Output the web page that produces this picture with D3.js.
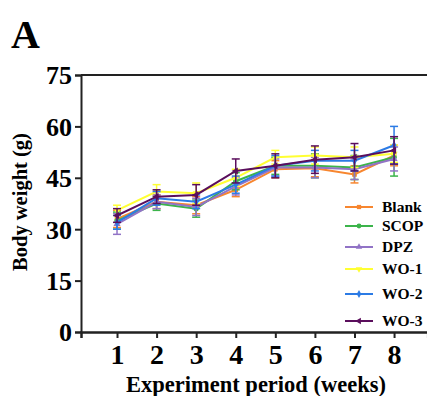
<!DOCTYPE html>
<html><head><meta charset="utf-8">
<script src="https://cdn.jsdelivr.net/npm/d3@7/dist/d3.min.js"></script>
<style>html,body{margin:0;padding:0;background:#fff;}</style>
</head><body>
<svg id="c" width="427" height="396"></svg>
<script>
const weeks = [1, 2, 3, 4, 5, 6, 7, 8];
const groups = ["Blank", "SCOP", "DPZ", "WO-1", "WO-2", "WO-3"];
const blank = [33.0, 38.0, 37.0, 41.5, 47.5, 47.8, 46.0, 51.5];
const scop  = [32.5, 37.5, 36.0, 44.0, 48.5, 48.5, 48.0, 51.0];
const dpz   = [31.5, 38.0, 36.5, 42.5, 48.0, 48.0, 47.5, 50.5];
const wo1   = [35.5, 41.0, 40.5, 45.0, 51.0, 51.5, 51.0, 52.0];
const wo2   = [32.0, 39.0, 38.0, 43.0, 48.5, 50.0, 50.0, 54.5];
const wo3   = [34.0, 39.5, 40.0, 47.0, 48.5, 50.3, 51.0, 53.0];
const blankSD = [2.5, 2.0, 2.5, 2.0, 2.5, 2.5, 2.5, 3.0];
const scopSD  = [2.5, 2.0, 2.5, 2.5, 2.5, 3.5, 3.5, 5.5];
const dpzSD   = [3.0, 2.0, 2.5, 2.5, 2.5, 3.0, 3.0, 3.5];
const wo1SD   = [1.5, 2.0, 3.0, 2.5, 2.0, 2.5, 3.0, 2.5];
const wo2SD   = [2.0, 2.0, 2.0, 2.5, 3.0, 3.0, 3.0, 5.5];
const wo3SD   = [2.0, 2.0, 3.0, 3.5, 3.5, 4.0, 4.0, 4.0];
const yTicks = [0, 15, 30, 45, 60, 75];

const colors = ["#F7862F", "#3CB44B", "#9173C6", "#FFFF33", "#2C7BE5", "#5A0E5C"];
const symbols = [d3.symbolSquare, d3.symbolCircle, d3.symbolTriangle, d3.symbolTriangle, d3.symbolDiamond, d3.symbolTriangle];
const rotations = [0, 0, 0, 180, 0, -90];
const means = [blank, scop, dpz, wo1, wo2, wo3];
const sds = [blankSD, scopSD, dpzSD, wo1SD, wo2SD, wo3SD];
const legendY = [207, 226, 247, 269, 294, 321];

const font = "'Liberation Serif','Times New Roman',serif";
const svg = d3.select("#c");
const x = d3.scaleLinear().domain([0.09, 8.85]).range([81, 427.7]);
const y = d3.scaleLinear().domain([0, 75]).range([332, 75]);

// panel letter
svg.append("text").attr("x", 11).attr("y", 48).attr("font-family", font)
  .attr("font-weight", "bold").attr("font-size", 40).text("A");

// top frame line
svg.append("line").attr("x1", x.range()[0]).attr("x2", 427).attr("y1", y(75)).attr("y2", y(75))
  .attr("stroke", "#222").attr("stroke-width", 2);

// y axis
const ya = svg.append("g").attr("transform", `translate(${x.range()[0]},0)`)
  .call(d3.axisLeft(y).tickValues(yTicks).tickSize(6).tickPadding(3).tickFormat(d3.format("d")));
ya.select(".domain").attr("stroke", "#222").attr("stroke-width", 2);
ya.selectAll(".tick line").attr("stroke", "#222").attr("stroke-width", 2);
ya.selectAll("text").attr("font-family", font).attr("font-weight", "bold").attr("font-size", 26).attr("fill", "#000").attr("dy", "0.34em");

// x axis
const xa = svg.append("g").attr("transform", `translate(0,${y(0)})`)
  .call(d3.axisBottom(x).tickValues(weeks).tickSize(6).tickPadding(6).tickFormat(d3.format("d")));
xa.select(".domain").attr("stroke", "#222").attr("stroke-width", 2.5);
xa.selectAll(".tick line").attr("stroke", "#222").attr("stroke-width", 2);
xa.selectAll("text").attr("font-family", font).attr("font-weight", "bold").attr("font-size", 28).attr("fill", "#000");

// axis titles
svg.append("text").attr("x", 256).attr("y", 392).attr("text-anchor", "middle")
  .attr("font-family", font).attr("font-weight", "bold").attr("font-size", 22.5).text("Experiment period (weeks)");
svg.append("text").attr("transform", "translate(27,202) rotate(-90)").attr("text-anchor", "middle")
  .attr("font-family", font).attr("font-weight", "bold").attr("font-size", 20.5).text("Body weight (g)");

// series
const line = d3.line().x((d, i) => x(weeks[i])).y(d => y(d));
groups.forEach((g, gi) => {
  const c = colors[gi];
  const gg = svg.append("g");
  const vals = means[gi], sd = sds[gi];
  vals.forEach((v, i) => {
    const cx = x(weeks[i]);
    gg.append("line").attr("x1", cx).attr("x2", cx).attr("y1", y(v - sd[i])).attr("y2", y(v + sd[i]))
      .attr("stroke", c).attr("stroke-width", 1.5);
    [v - sd[i], v + sd[i]].forEach(e => {
      gg.append("line").attr("x1", cx - 4).attr("x2", cx + 4).attr("y1", y(e)).attr("y2", y(e))
        .attr("stroke", c).attr("stroke-width", 1.5);
    });
  });
  gg.append("path").attr("d", line(vals)).attr("fill", "none").attr("stroke", c).attr("stroke-width", 2);
  gg.selectAll("path.m").data(vals).enter().append("path").attr("class", "m")
    .attr("d", d3.symbol().type(symbols[gi]).size(22))
    .attr("transform", (d, i) => `translate(${x(weeks[i])},${y(d)}) rotate(${rotations[gi]})`)
    .attr("fill", c);

  // legend
  const ly = legendY[gi];
  svg.append("line").attr("x1", 345).attr("x2", 373).attr("y1", ly).attr("y2", ly).attr("stroke", c).attr("stroke-width", 2);
  svg.append("path").attr("d", d3.symbol().type(symbols[gi]).size(18))
    .attr("transform", `translate(359,${ly}) rotate(${rotations[gi]})`).attr("fill", c);
  svg.append("text").attr("x", 382).attr("y", ly).attr("dy", "0.35em")
    .attr("font-family", font).attr("font-weight", "bold").attr("font-size", 15.5).text(g);
});
</script>
</body></html>
